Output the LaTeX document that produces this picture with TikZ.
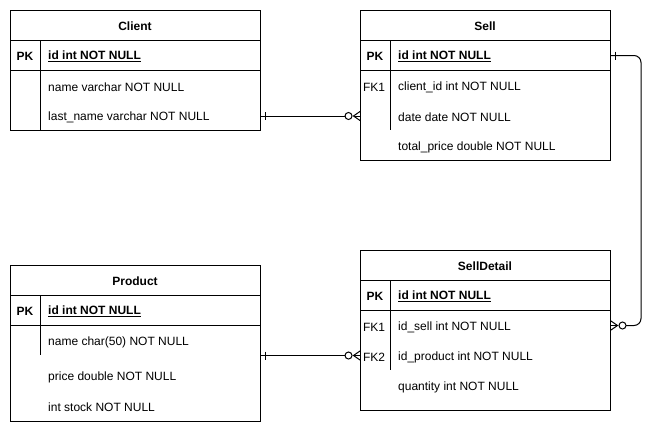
\documentclass[tikz,border=0pt]{standalone}
\usepackage{fontspec}
\setmainfont{Liberation Sans}
\usetikzlibrary{calc}
\begin{document}
\begin{tikzpicture}[x=1pt,y=-1pt,
  tbl/.style={draw=black,line width=1pt,fill=white,minimum width=250pt,inner sep=0pt,anchor=north west},
  ln/.style={draw=black,line width=1pt},
  conn/.style={draw=black,line width=1pt},
  txt/.style={font=\fontsize{12}{14}\selectfont,inner sep=0pt,yshift=-1pt},
  ttl/.style={txt,font=\fontsize{12}{14}\selectfont\bfseries},
  key/.style={txt,font=\fontsize{12}{14}\selectfont\bfseries},
  fkey/.style={txt},
  fld/.style={txt,anchor=west},
  pkf/.style={txt,font=\fontsize{12}{14}\selectfont\bfseries,anchor=west}]
\useasboundingbox[fill=white] (0,0) rectangle (661,431);

% ---------- Client ----------
\node[tbl,minimum height=120pt] (client) at (10,10) {};
\draw[ln] ([yshift=-30.5pt]client.north west) -- ([yshift=-30.5pt]client.north east);
\draw[ln] ([yshift=-60.5pt]client.north west) -- ([yshift=-60.5pt]client.north east);
\draw[ln] ([xshift=30pt,yshift=-30.5pt]client.north west) -- ([xshift=30pt]client.south west);
\node[ttl] (client-t) at (135,25.5) {Client};
\node[key] (client-k) at (25,55.5) {PK};
\node[pkf] (client-pk) at (48,55.5) {\underline{id int NOT NULL}};
\node[fld] (client-f1) at (48,86) {name varchar NOT NULL};
\node[fld] (client-f2) at (48,116) {last\_name varchar NOT NULL};

% ---------- Sell ----------
\node[tbl,minimum height=150pt] (sell) at (360,10) {};
\draw[ln] ([yshift=-30.5pt]sell.north west) -- ([yshift=-30.5pt]sell.north east);
\draw[ln] ([yshift=-60.5pt]sell.north west) -- ([yshift=-60.5pt]sell.north east);
\draw[ln] ([xshift=30pt,yshift=-30.5pt]sell.north west) -- ([xshift=30pt,yshift=-120pt]sell.north west);
\node[ttl] (sell-t) at (485,25.5) {Sell};
\node[key] (sell-k) at (375,55.5) {PK};
\node[pkf] (sell-pk) at (398,55.5) {\underline{id int NOT NULL}};
\node[fkey] (sell-k1) at (374,86) {FK1};
\node[fld] (sell-f1) at (398,86) {client\_id int NOT NULL};
\node[fld] (sell-f2) at (398,116) {date date NOT NULL};
\node[fld] (sell-f3) at (398,146) {total\_price double NOT NULL};

% ---------- Product ----------
\node[tbl,minimum height=156pt] (product) at (10,265) {};
\draw[ln] ([yshift=-30.5pt]product.north west) -- ([yshift=-30.5pt]product.north east);
\draw[ln] ([yshift=-60.5pt]product.north west) -- ([yshift=-60.5pt]product.north east);
\draw[ln] ([xshift=30pt,yshift=-30.5pt]product.north west) -- ([xshift=30pt,yshift=-90pt]product.north west);
\node[ttl] (product-t) at (135,280.5) {Product};
\node[key] (product-k) at (25,310.5) {PK};
\node[pkf] (product-pk) at (48,310.5) {\underline{id int NOT NULL}};
\node[fld] (product-f1) at (48,341) {name char(50) NOT NULL};
\node[fld] (product-f2) at (48,376) {price double NOT NULL};
\node[fld] (product-f3) at (48,406) {int stock NOT NULL};

% ---------- SellDetail ----------
\node[tbl,minimum height=160pt] (detail) at (360,250) {};
\draw[ln] ([yshift=-30.5pt]detail.north west) -- ([yshift=-30.5pt]detail.north east);
\draw[ln] ([yshift=-60.5pt]detail.north west) -- ([yshift=-60.5pt]detail.north east);
\draw[ln] ([xshift=30pt,yshift=-30.5pt]detail.north west) -- ([xshift=30pt,yshift=-120pt]detail.north west);
\node[ttl] (detail-t) at (485,265.5) {SellDetail};
\node[key] (detail-k) at (375,295.5) {PK};
\node[pkf] (detail-pk) at (398,295.5) {\underline{id int NOT NULL}};
\node[fkey] (detail-k1) at (374,326) {FK1};
\node[fld] (detail-f1) at (398,326) {id\_sell int NOT NULL};
\node[fkey] (detail-k2) at (374,356) {FK2};
\node[fld] (detail-f2) at (398,356) {id\_product int NOT NULL};
\node[fld] (detail-f3) at (398,386) {quantity int NOT NULL};

% ---------- Client -> Sell ----------
\coordinate (a1) at (client.east |- 0,116);
\coordinate (a2) at (sell.west |- 0,116);
\draw[conn] (a1) -- ($(a2)+(-15,0)$);
\draw[conn] ($(a1)+(4,-4)$) -- ($(a1)+(4,4)$);
\draw[conn] ($(a2)+(-11.5,0)$) circle (3.5pt);
\draw[conn] ($(a2)+(0,-4.5)$) -- ($(a2)+(-6.5,0)$) -- ($(a2)+(0,4.5)$);
\draw[conn] (a2) -- ($(a2)+(-6.5,0)$);

% ---------- Product -> SellDetail ----------
\coordinate (b1) at (product.east |- 0,355.5);
\coordinate (b2) at (detail.west |- 0,355.5);
\draw[conn] (b1) -- ($(b2)+(-15,0)$);
\draw[conn] ($(b1)+(4,-4)$) -- ($(b1)+(4,4)$);
\draw[conn] ($(b2)+(-11.5,0)$) circle (3.5pt);
\draw[conn] ($(b2)+(0,-4.5)$) -- ($(b2)+(-6.5,0)$) -- ($(b2)+(0,4.5)$);
\draw[conn] (b2) -- ($(b2)+(-6.5,0)$);

% ---------- Sell -> SellDetail ----------
\coordinate (s1) at (sell.east |- 0,55.5);
\coordinate (s2) at (detail.east |- 0,325.5);
\draw[conn,rounded corners=7pt] (s1) -- ($(s1)+(30,0)$) |- ($(s2)+(15,0)$);
\draw[conn] ($(s1)+(4,-4)$) -- ($(s1)+(4,4)$);
\draw[conn] ($(s2)+(11.5,0)$) circle (3.5pt);
\draw[conn] ($(s2)+(0,-4.5)$) -- ($(s2)+(6.5,0)$) -- ($(s2)+(0,4.5)$);
\draw[conn] (s2) -- ($(s2)+(6.5,0)$);
\end{tikzpicture}
\end{document}
